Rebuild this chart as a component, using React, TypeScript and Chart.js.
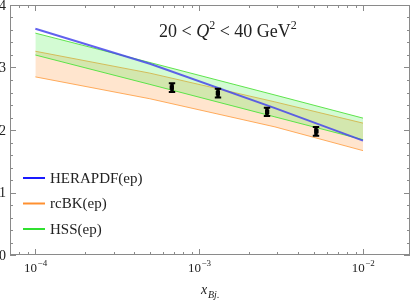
import React, { useEffect, useRef } from "react";
import { Chart, registerables } from "chart.js";
Chart.register(...registerables);

const bandX = [1e-4, 5e-4, 2.9e-3, 1e-2];
const heraValues = [3.62, 3.06, 2.35, 1.83];
const hssUpper = [3.55, 3.08, 2.56, 2.19];
const hssLower = [3.2, 2.73, 2.21, 1.845];
const rcbkUpper = [3.26, 2.91, 2.45, 2.11];
const rcbkLower = [2.85, 2.5, 2.05, 1.67];
const dataX = [6.8e-4, 1.3e-3, 2.6e-3, 5.2e-3];
const dataY = [2.68, 2.59, 2.29, 1.98];
const dataErr = [0.07, 0.07, 0.065, 0.07];
const yTicks = [0, 1, 2, 3, 4];
const xTickExps = [-4, -3, -2];
const legendLabels = ["HERAPDF(ep)", "rcBK(ep)", "HSS(ep)"];
const legendColors = ["#1a1aff", "#ff9030", "#30e030"];

const SERIF = "'Liberation Serif', 'DejaVu Serif', serif";

const pts = (xs: number[], ys: number[]) => xs.map((x, i) => ({ x, y: ys[i] }));

const overlay = {
  id: "overlay",
  beforeDatasetDraw(chart: any, args: any) {
    if (args.index !== 0) return;
    const { ctx, scales } = chart;
    const xs = scales.x, ys = scales.y;
    ctx.save();
    ctx.strokeStyle = "#000";
    dataX.forEach((xv, i) => {
      const px = Math.round(xs.getPixelForValue(xv));
      const top = ys.getPixelForValue(dataY[i] + dataErr[i]);
      const bot = ys.getPixelForValue(dataY[i] - dataErr[i]);
      ctx.lineWidth = 3.5;
      ctx.beginPath();
      ctx.moveTo(px, top);
      ctx.lineTo(px, bot);
      ctx.stroke();
      ctx.lineWidth = 2;
      ctx.beginPath();
      ctx.moveTo(px - 3.2, top);
      ctx.lineTo(px + 3.2, top);
      ctx.moveTo(px - 3.2, bot);
      ctx.lineTo(px + 3.2, bot);
      ctx.stroke();
    });
    ctx.restore();
  },
  afterDraw(chart: any) {
    const { ctx, chartArea: a, scales } = chart;
    const xs = scales.x, ys = scales.y;
    ctx.save();
    // frame
    ctx.strokeStyle = "#8a8a8a";
    ctx.lineWidth = 1;
    ctx.strokeRect(a.left + 0.5, a.top + 0.5, a.right - a.left - 1, a.bottom - a.top - 1);
    // y ticks
    ctx.beginPath();
    for (let v = 0; v <= 4.0001; v += 0.2) {
      const py = Math.round(ys.getPixelForValue(v)) + 0.5;
      const major = Math.abs(v - Math.round(v)) < 1e-6;
      const len = major ? 6 : 3;
      ctx.moveTo(a.left, py);
      ctx.lineTo(a.left + len, py);
      ctx.moveTo(a.right, py);
      ctx.lineTo(a.right - len, py);
    }
    // x ticks
    for (let e = -5; e <= -2; e++) {
      for (let m = 1; m <= 9; m++) {
        const v = m * Math.pow(10, e);
        if (v < xs.min || v > xs.max) continue;
        const px = Math.round(xs.getPixelForValue(v)) + 0.5;
        const len = m === 1 ? 6 : 3;
        ctx.moveTo(px, a.bottom);
        ctx.lineTo(px, a.bottom - len);
        ctx.moveTo(px, a.top);
        ctx.lineTo(px, a.top + len);
      }
    }
    ctx.stroke();
    // y labels
    ctx.fillStyle = "#222";
    ctx.font = `14px ${SERIF}`;
    ctx.textAlign = "right";
    ctx.textBaseline = "middle";
    yTicks.forEach((v) => {
      ctx.fillText(String(v), a.left - 4, ys.getPixelForValue(v) + 1);
    });
    // x labels
    ctx.textBaseline = "alphabetic";
    xTickExps.forEach((e) => {
      const px = xs.getPixelForValue(Math.pow(10, e));
      ctx.font = `13px ${SERIF}`;
      const w1 = ctx.measureText("10").width;
      ctx.font = `9px ${SERIF}`;
      const sup = "\u2212" + String(-e);
      const w2 = ctx.measureText(sup).width;
      const x0 = px - (w1 + w2) / 2;
      ctx.textAlign = "left";
      ctx.font = `13px ${SERIF}`;
      ctx.fillText("10", x0, a.bottom + 17);
      ctx.font = `9px ${SERIF}`;
      ctx.fillText(sup, x0 + w1 + 0.5, a.bottom + 11);
    });
    // x axis title
    ctx.font = `italic 14px ${SERIF}`;
    ctx.textAlign = "left";
    ctx.fillText("x", 201, 294);
    ctx.font = `italic 10px ${SERIF}`;
    ctx.fillText("Bj.", 208, 298);
    // title
    const base = 37;
    let tx = 159;
    const seg = (t: string, font: string, dy = 0) => {
      ctx.font = font;
      ctx.fillText(t, tx, base + dy);
      tx += ctx.measureText(t).width;
    };
    seg("20 < ", `18px ${SERIF}`);
    seg("Q", `italic 18px ${SERIF}`);
    seg("2", `12px ${SERIF}`, -8);
    seg(" < 40 GeV", `18px ${SERIF}`);
    seg("2", `12px ${SERIF}`, -8);
    // legend
    ctx.font = `15px ${SERIF}`;
    ctx.textBaseline = "middle";
    legendLabels.forEach((lbl, i) => {
      const y = 178 + i * 25.5;
      ctx.strokeStyle = legendColors[i];
      ctx.lineWidth = 2;
      ctx.beginPath();
      ctx.moveTo(23, y);
      ctx.lineTo(45, y);
      ctx.stroke();
      ctx.fillStyle = "#222";
      ctx.fillText(lbl, 50, y + 1);
    });
    ctx.restore();
  },
};

export default function App() {
  const ref = useRef<HTMLCanvasElement>(null);
  useEffect(() => {
    const chart = new Chart(ref.current!, {
      type: "line",
      data: {
        datasets: [
          {
            label: "data",
            data: pts(dataX, dataY),
            showLine: false,
            pointStyle: "rect",
            pointRadius: 3,
            pointBackgroundColor: "#000",
            pointBorderColor: "#000",
            pointBorderWidth: 0,
          },
          {
            label: "HERAPDF(ep)",
            data: pts(bandX, heraValues),
            borderColor: "rgba(70,70,235,0.85)",
            borderWidth: 2,
            pointRadius: 0,
            fill: false,
          },
          {
            label: "HSS upper",
            data: pts(bandX, hssUpper),
            borderColor: "rgba(80,225,60,0.9)",
            borderWidth: 1,
            pointRadius: 0,
            backgroundColor: "rgba(70,240,70,0.24)",
            fill: "+1",
          },
          {
            label: "HSS lower",
            data: pts(bandX, hssLower),
            borderColor: "rgba(80,225,60,0.9)",
            borderWidth: 1,
            pointRadius: 0,
            fill: false,
          },
          {
            label: "rcBK upper",
            data: pts(bandX, rcbkUpper),
            borderColor: "rgba(255,165,80,0.9)",
            borderWidth: 1,
            pointRadius: 0,
            backgroundColor: "rgba(255,150,60,0.25)",
            fill: "+1",
          },
          {
            label: "rcBK lower",
            data: pts(bandX, rcbkLower),
            borderColor: "rgba(255,165,80,0.9)",
            borderWidth: 1,
            pointRadius: 0,
            fill: false,
          },
        ],
      },
      options: {
        responsive: false,
        animation: false,
        devicePixelRatio: 1,
        layout: { padding: { left: 10, right: 4, top: 5, bottom: 49 } },
        plugins: { legend: { display: false }, tooltip: { enabled: false } },
        scales: {
          x: { type: "logarithmic", min: 7.05e-5, max: 0.01936, display: false },
          y: { type: "linear", min: 0, max: 4, display: false },
        },
      },
      plugins: [overlay],
    });
    return () => chart.destroy();
  }, []);
  return (
    <div style={{ position: "absolute", left: 0, top: 0, width: 414, height: 304, background: "#fff" }}>
      <canvas ref={ref} width={414} height={304} />
    </div>
  );
}
